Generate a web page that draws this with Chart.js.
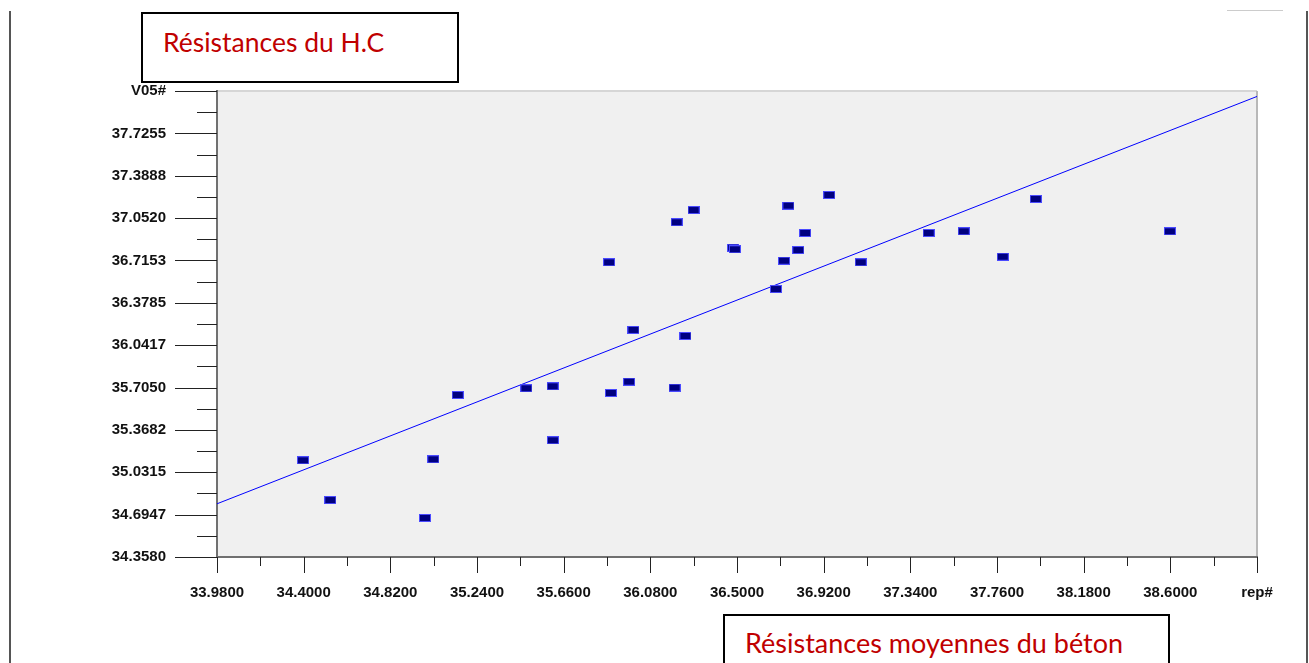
<!DOCTYPE html>
<html lang="fr">

<head>
  <meta charset="UTF-8" />
  <meta name="viewport" content="width=device-width, initial-scale=1.0" />
  <title>Résistances du H.C</title>
  <script src="https://cdn.jsdelivr.net/npm/chart.js@4"></script>
</head>
<style>
  body {
    margin: 0;
    background: #fff;
    font-family: 'Lato';
  }

  #wrap {
    position: relative;
    width: 1309px;
    height: 663px;
    overflow: hidden;
  }

  #myChart {
    position: absolute;
    left: 0;
    top: 0;
  }

  .box {
    position: absolute;
    border: 2px solid #000;
    box-sizing: border-box;
    background: #fff;
  }

  .box span {
    position: absolute;
    left: 20px;
    color: #c00000;
    font-size: 27px;
    line-height: 27px;
    white-space: nowrap;
  }

  .vline {
    position: absolute;
    top: 11px;
    bottom: 0;
    width: 2px;
    background: #555;
  }
</style>

<body>
  <div id="wrap">
    <canvas id="myChart" width="1309" height="663"></canvas>
    <div class="vline" style="left: 9px;"></div>
    <div class="vline" style="left: 1306px;"></div>
    <div style="position: absolute; left: 1227px; top: 10px; width: 56px; height: 1px; background: #ccc;"></div>
    <div class="box" style="left: 141px; top: 12px; width: 318px; height: 71px;">
      <span style="top: 15px; font-size: 26.5px;">Résistances du H.C</span>
    </div>
    <div class="box" style="left: 723px; top: 614px; width: 447px; height: 70px;">
      <span style="top: 13px;">Résistances moyennes du béton</span>
    </div>
  </div>

  <script>
    // x: résistances moyennes du béton, y: résistances du H.C
    const betonMoyen = [34.397, 34.529, 34.988, 35.028, 35.147, 35.479, 35.607, 35.608, 35.880, 35.889,
      35.977, 35.998, 36.198, 36.208, 36.250, 36.290, 36.481, 36.490, 36.689, 36.728,
      36.749, 36.797, 36.830, 36.947, 37.100, 37.429, 37.599, 37.788, 37.948, 38.598];
    const resistHC = [35.127, 34.811, 34.668, 35.135, 35.646, 35.699, 35.715, 35.286, 36.701, 35.662,
      35.752, 36.163, 35.704, 37.019, 36.115, 37.116, 36.817, 36.804, 36.488, 36.713,
      37.151, 36.798, 36.934, 37.236, 36.701, 36.934, 36.947, 36.745, 37.204, 36.947];

    // droite de régression (extrémités)
    const droiteX = [33.98, 39.02];
    const droiteY = [34.781, 38.019];

    const xTickValues = [33.98, 34.40, 34.82, 35.24, 35.66, 36.08, 36.50, 36.92, 37.34, 37.76, 38.18, 38.60, 39.02];
    const xTickLabels = ['33.9800', '34.4000', '34.8200', '35.2400', '35.6600', '36.0800', '36.5000',
      '36.9200', '37.3400', '37.7600', '38.1800', '38.6000', 'rep#'];
    const yTickValues = [34.358, 34.6947, 35.0315, 35.3682, 35.7050, 36.0417, 36.3785, 36.7153,
      37.0520, 37.3888, 37.7255, 38.0623];
    const yTickLabels = ['34.3580', '34.6947', '35.0315', '35.3682', '35.7050', '36.0417', '36.3785',
      '36.7153', '37.0520', '37.3888', '37.7255', 'V05#'];

    window.addEventListener('load', setup);

    // major ticks plus a minor one halfway between each pair
    function withMinor(values) {
      const out = [];
      values.forEach((v, i) => {
        out.push({ value: v });
        if (i < values.length - 1) out.push({ value: (v + values[i + 1]) / 2 });
      });
      return out;
    }

    function pointMark() {
      const c = document.createElement('canvas');
      c.width = 12;
      c.height = 8;
      const g = c.getContext('2d');
      g.fillStyle = '#4a4aff';
      g.fillRect(0, 0, 12, 8);
      g.fillStyle = '#000080';
      g.fillRect(1, 1, 10, 6);
      return c;
    }

    const plotBox = {
      id: 'plotBox',
      beforeDraw(chart) {
        const { ctx, chartArea: a } = chart;
        ctx.save();
        ctx.fillStyle = '#f0f0f0';
        ctx.fillRect(a.left, a.top, a.right - a.left, a.bottom - a.top);
        ctx.lineWidth = 2;
        ctx.strokeStyle = '#d6d6d6';
        ctx.beginPath();
        ctx.moveTo(a.left, a.top);
        ctx.lineTo(a.right, a.top);
        ctx.stroke();
        ctx.strokeStyle = '#b8b8b8';
        ctx.beginPath();
        ctx.moveTo(a.right, a.top);
        ctx.lineTo(a.right, a.bottom);
        ctx.stroke();
        ctx.restore();
      },
      afterDraw(chart) {
        const ctx = chart.ctx;
        const x = chart.scales.x;
        const y = chart.scales.y;
        ctx.save();
        ctx.lineWidth = 1;
        ctx.strokeStyle = '#222';
        ctx.beginPath();
        x.ticks.forEach((t, i) => {
          const px = Math.round(x.getPixelForValue(t.value)) + 0.5;
          ctx.moveTo(px, x.top);
          ctx.lineTo(px, x.top + (i % 2 === 0 ? 16 : 9));
        });
        y.ticks.forEach((t, i) => {
          const py = Math.round(y.getPixelForValue(t.value)) + 0.5;
          ctx.moveTo(y.right, py);
          ctx.lineTo(y.right - (i % 2 === 0 ? 42 : 20), py);
        });
        ctx.stroke();
        ctx.restore();
      }
    };

    function setup() {
      const ctx = document.getElementById('myChart').getContext('2d');
      const tickFont = { family: "'Liberation Sans', Arial", size: 15, weight: 'bold' };
      const myChart = new Chart(ctx, {
        type: 'scatter',
        data: {
          datasets: [
            {
              label: 'points',
              data: betonMoyen.map((v, i) => ({ x: v, y: resistHC[i] })),
              pointStyle: pointMark(),
              pointRadius: 6
            },
            {
              label: 'droite',
              data: droiteX.map((v, i) => ({ x: v, y: droiteY[i] })),
              showLine: true,
              borderColor: '#0000ff',
              borderWidth: 1,
              pointRadius: 0
            }
          ]
        },
        options: {
          responsive: false,
          animation: false,
          devicePixelRatio: 1,
          layout: { padding: { top: 91, right: 52, bottom: 56, left: 0 } },
          plugins: { legend: { display: false }, tooltip: { enabled: false } },
          scales: {
            x: {
              type: 'linear',
              min: 33.98,
              max: 39.02,
              afterBuildTicks: s => { s.ticks = withMinor(xTickValues); },
              afterFit: s => { s.height = 50; },
              grid: { display: false },
              border: { color: '#707070', width: 2 },
              ticks: {
                autoSkip: false,
                maxRotation: 0,
                padding: 19,
                color: '#111',
                font: tickFont,
                callback: (v, i) => (i % 2 === 0 ? xTickLabels[i / 2] : '')
              }
            },
            y: {
              type: 'linear',
              min: 34.358,
              max: 38.0623,
              afterBuildTicks: s => { s.ticks = withMinor(yTickValues); },
              afterFit: s => { s.width = 217; },
              grid: { display: false },
              border: { color: '#707070', width: 2 },
              ticks: {
                autoSkip: false,
                padding: 43,
                color: '#111',
                font: tickFont,
                callback: (v, i) => (i % 2 === 0 ? yTickLabels[i / 2] : '')
              }
            }
          }
        },
        plugins: [plotBox]
      });
    }
  </script>
</body>

</html>
